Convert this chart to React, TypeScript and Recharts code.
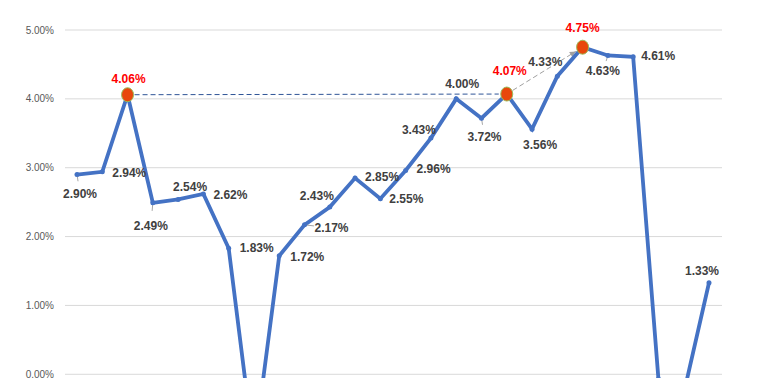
import { LineChart, Line, XAxis, YAxis, CartesianGrid, ReferenceLine } from 'recharts';

// periods (x axis is below the visible area in the reference)
const periods = ['1', '2', '3', '4', '5', '6', '7', '8', '9', '10', '11', '12', '13', '14', '15', '16', '17', '18', '19', '20', '21', '22', '23', '24', '25', '26'];
// rate in %
const rates = [2.9, 2.94, 4.06, 2.49, 2.54, 2.62, 1.83, -1.1, 1.72, 2.17, 2.43, 2.85, 2.55, 2.96, 3.43, 4.0, 3.72, 4.07, 3.56, 4.33, 4.75, 4.63, 4.61, -0.07, -0.28, 1.33];
const highlighted = ['3', '18', '21'];
const yTicks = [0, 1, 2, 3, 4, 5];

// label offset from its point (dx, dy); null = no label
const labelPlacement: ([number, number] | null)[] = [
  [3, 19], [27, 1], [1, -16], [-2, 23], [12, -12], [27, 1], [28, 0], null,
  [28, 1], [27, 3], [-13, -11], [27, -1], [26, 0], [28, -1], [-12, -8], [6, -15],
  [3, 19], [3, -23], [8, 16], [-12, -14], [0, -19], [-5, 16], [25, -1], null, null, [-7, -12],
];
const leaderIdx = [0, 3, 9, 16, 21];

const data = periods.map((p, i) => ({ period: p, rate: rates[i] }));

const BLUE = '#4472C4';

const renderDot = (props: any) => {
  const { cx, cy, index, payload } = props;
  const place = labelPlacement[index];
  const hot = highlighted.includes(payload.period);
  return (
    <g key={`d${index}`}>
      {place && leaderIdx.includes(index) && (
        <line x1={cx} y1={cy} x2={cx + place[0] * 0.35} y2={cy + place[1] * 0.35} stroke="#a6a6a6" strokeWidth={1} />
      )}
      {hot ? (
        <ellipse cx={cx} cy={cy} rx={6} ry={7} fill="#E8470C" stroke="#9BBB59" strokeWidth={1} />
      ) : (
        <circle cx={cx} cy={cy} r={2.5} fill={BLUE} />
      )}
      {place && (
        <text
          x={cx + place[0]}
          y={cy + place[1] + 4}
          textAnchor="middle"
          fontSize={12}
          fontWeight="bold"
          fontFamily="'Liberation Sans', Arial, sans-serif"
          fill={hot ? '#FF0000' : '#404040'}
        >
          {payload.rate.toFixed(2)}%
        </text>
      )}
    </g>
  );
};

const trimmedShape = (arrow: boolean, color: string) => (props: any) => {
  const { x1, y1, x2, y2 } = props;
  if ([x1, y1, x2, y2].some((v) => v == null || isNaN(v))) return <g />;
  const len = Math.hypot(x2 - x1, y2 - y1);
  const ux = (x2 - x1) / len;
  const uy = (y2 - y1) / len;
  const sx = x1 + ux * 7;
  const sy = y1 + uy * 7;
  const ex = x2 - ux * 8;
  const ey = y2 - uy * 8;
  const head = 6;
  return (
    <g>
      <line x1={sx} y1={sy} x2={ex} y2={ey} stroke={color} strokeWidth={1} strokeDasharray="5 3" />
      {arrow && (
        <polygon
          points={`${ex},${ey} ${ex - ux * head - uy * 3},${ey - uy * head + ux * 3} ${ex - ux * head + uy * 3},${ey - uy * head - ux * 3}`}
          fill={color}
        />
      )}
    </g>
  );
};

export default function App() {
  return (
    <div style={{ width: 752, height: 370, overflow: 'hidden', background: '#fff' }}>
      <LineChart width={752} height={520} data={data} margin={{ top: 22, right: 38, bottom: 16, left: 0 }}>
        <CartesianGrid vertical={false} stroke="#d9d9d9" />
        <XAxis dataKey="period" hide padding={{ left: 12, right: 13 }} />
        <YAxis
          domain={[-2, 5]}
          ticks={yTicks}
          width={57}
          axisLine={false}
          tickLine={false}
          tickSize={0}
          tickMargin={11}
          tickFormatter={(v: number) => `${v.toFixed(2)}%`}
          tick={{ fontSize: 10, fill: '#595959', fontFamily: "'Liberation Sans', Arial, sans-serif" }}
        />
        <ReferenceLine
          segment={[{ x: '3', y: 4.06 }, { x: '18', y: 4.07 }]}
          shape={trimmedShape(false, '#2F5597')}
        />
        <ReferenceLine
          segment={[{ x: '18', y: 4.07 }, { x: '21', y: 4.75 }]}
          shape={trimmedShape(true, '#a0a0a0')}
        />
        <Line
          type="linear"
          dataKey="rate"
          stroke={BLUE}
          strokeWidth={3.8}
          dot={renderDot}
          activeDot={false}
          isAnimationActive={false}
        />
      </LineChart>
    </div>
  );
}
